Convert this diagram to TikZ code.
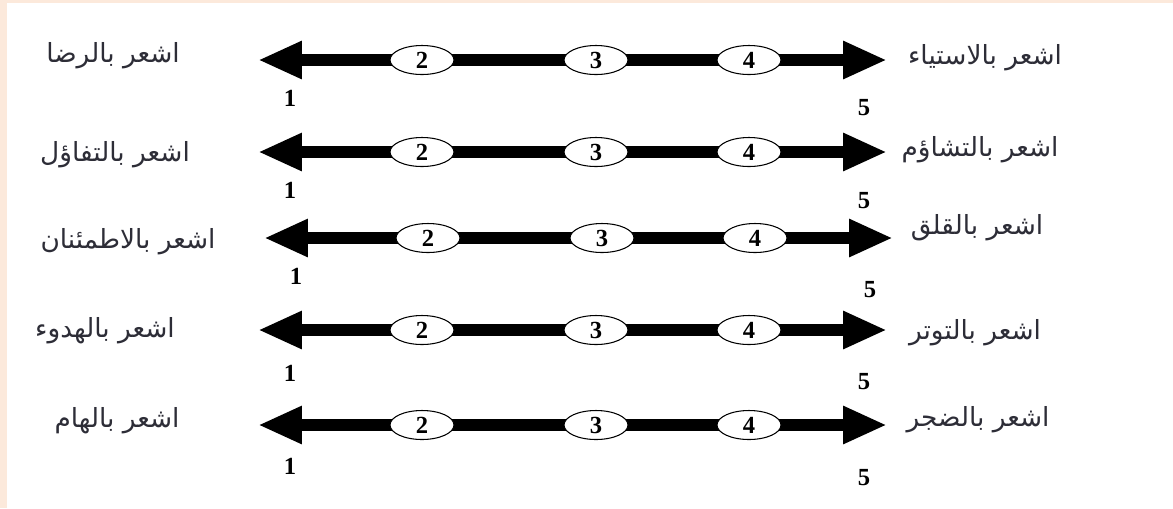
\documentclass[tikz,border=0pt]{standalone}
\usepackage{fontspec}
\setmainfont{Liberation Serif}
\newfontfamily\arabicfont[Script=Arabic]{DejaVu Sans}
\TeXXeTstate=1
\usetikzlibrary{arrows.meta,shapes.geometric}

\begin{document}
\begin{tikzpicture}[x=0.2mm,y=-0.2mm,
  scale line/.style={line width=6.8pt,
    {Triangle[length=25pt,width=20pt]}-{Triangle[length=25pt,width=20pt]}},
  point/.style={ellipse,draw,fill=white,line width=.6pt,inner sep=0pt,
    minimum width=12.8mm,minimum height=5.8mm,
    font=\fontsize{14}{14}\selectfont\bfseries},
  endnum/.style={font=\fontsize{14}{14}\selectfont\bfseries},
  feel/.style={text=ink,font=\arabicfont\fontsize{15}{17}\selectfont}]
\definecolor{peach}{RGB}{252,233,219}
\definecolor{ink}{RGB}{45,45,55}
%% --- frame ---
\useasboundingbox (0,0) rectangle (1173,508);
\fill[peach] (0,0) rectangle (1173,508);
\fill[white] (7,3) rectangle (1173,508);
%% --- five scales: y, shift, left text, right text, labels 1 and 5 ---
\foreach \y/\dx/\lx/\ly/\rx/\ry/\oy/\fy/\ltxt/\rtxt [count=\i] in {
  60/0/113/56/985/58/98/108/{اشعر بالرضا}/{اشعر بالاستياء},
  152/0/115/155/980/150/190/201/{اشعر بالتفاؤل}/{اشعر بالتشاؤم},
  238/6/128/242/977/228/276/290/{اشعر بالاطمئنان}/{اشعر بالقلق},
  330/0/105/331/975/333/373/382/{اشعر بالهدوء}/{اشعر بالتوتر},
  425/0/117/421/978/420/466/478/{اشعر بالهام}/{اشعر بالضجر}}{
  \coordinate (lft\i) at (258+\dx,\y);
  \coordinate (rgt\i) at (887+\dx,\y);
  \draw[scale line] (lft\i) -- (rgt\i);
  \node[point] (pt2\i) at (422+\dx,\y) {2};
  \node[point] (pt3\i) at (596+\dx,\y) {3};
  \node[point] (pt4\i) at (749+\dx,\y) {4};
  \node[endnum] (one\i) at (290+\dx,\oy) {1};
  \node[endnum] (five\i) at (864+\dx,\fy) {5};
  \node[feel] (lt\i) at (\lx,\ly) {\beginR\ltxt\endR};
  \node[feel] (rt\i) at (\rx,\ry) {\beginR\rtxt\endR};
}
\end{tikzpicture}
\end{document}
